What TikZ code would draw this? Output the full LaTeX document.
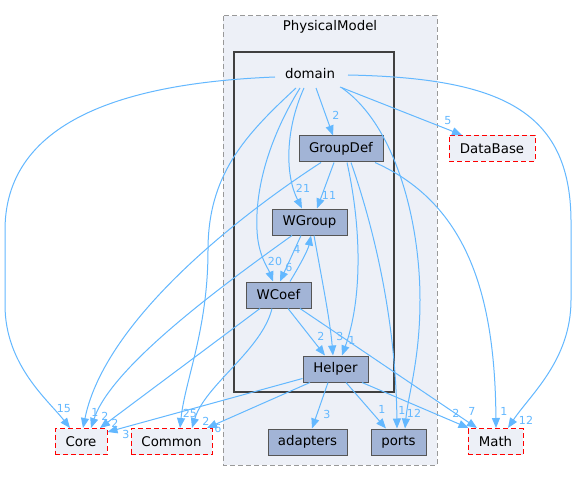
\documentclass[tikz,border=0pt]{standalone}
\usepackage{fontspec}
\setmainfont{DejaVu Sans}
\usetikzlibrary{arrows.meta,calc}
\definecolor{eb}{HTML}{63B8FF}
\definecolor{nf}{HTML}{A2B4D6}
\definecolor{cf}{HTML}{EDF0F7}
\definecolor{nb}{HTML}{555555}
\definecolor{db}{HTML}{404040}
\definecolor{pb}{HTML}{999999}
\tikzset{
  w/.style={minimum width=#1*0.75pt},
  dirn/.style={draw=nb, fill=nf, line width=0.75pt, minimum height=19.5pt, inner sep=0pt, font=\fontsize{10}{12}\selectfont},
  extn/.style={draw=red, fill=cf, line width=0.75pt, dash pattern=on 3.75pt off 2.25pt, minimum height=19.5pt, inner sep=0pt, font=\fontsize{10}{12}\selectfont},
  dep/.style={draw=eb, line width=0.75pt, -{Triangle[length=7.5pt,width=6pt]}},
  lbl/.style={text=eb, inner sep=0pt, font=\fontsize{8.3}{10}\selectfont},
  ttl/.style={inner sep=0pt, font=\fontsize{10}{12}\selectfont}
}
\begin{document}
\begin{tikzpicture}[x=0.75pt,y=-0.75pt]
\useasboundingbox (0,0) rectangle (578,481);
\fill[white] (0,0) rectangle (578,481);
% clusters
\draw[pb, fill=cf, dash pattern=on 3.75pt off 2.25pt, line width=0.75pt] (223,16) rectangle (437,465);
\node[ttl] (pmtitle) at (330,27) {PhysicalModel};
\draw[db, fill=cf, line width=1.5pt] (234,52) rectangle (394,392);
\node[ttl] (domain) at (310,74) {domain};
% nodes
\node[dirn, w=84] (GroupDef) at (341,149) {GroupDef};
\node[dirn, w=75] (WGroup) at (309.5,222) {WGroup};
\node[dirn, w=65] (WCoef) at (278.5,295) {WCoef};
\node[dirn, w=65] (Helper) at (335.5,369) {Helper};
\node[dirn, w=79] (adapters) at (307.5,442) {adapters};
\node[dirn, w=55] (ports) at (398.5,442) {ports};
\node[extn, w=52] (Core) at (81,441.5) {Core};
\node[extn, w=81] (Common) at (171.5,441.5) {Common};
\node[extn, w=55] (Math) at (495.5,441.5) {Math};
\node[extn, w=86] (DataBase) at (492,148.5) {DataBase};
% edges from domain
\draw[dep] ($(domain)+(-35,3)$) .. controls (150,82) and (5,110) .. (5,230) -- (5,305) .. controls (5,365) and (48,400) .. ($(Core.north)+(-11,0)$);
\draw[dep] ($(domain)+(-14,14)$) .. controls (245,135) and (208,175) .. (208,250) .. controls (208,330) and (185,380) .. ($(Common.north)+(8.5,0)$);
\draw[dep] ($(domain)+(6,14)$) -- ($(GroupDef.north)+(-8,0)$);
\draw[dep] ($(domain)+(-6,14)$) .. controls (285,130) and (285,175) .. ($(WGroup.north)+(-7.5,0)$);
\draw[dep] ($(domain)+(-10,14)$) .. controls (268,140) and (255,190) .. (257,230) .. controls (258,255) and (268,268) .. ($(WCoef.north)+(-5.5,0)$);
\draw[dep] ($(domain)+(30,13)$) -- ($(DataBase.north)+(-30,0)$);
\draw[dep] ($(domain)+(32,14)$) .. controls (395,125) and (420,220) .. (420,300) .. controls (420,360) and (408,395) .. ($(ports.north)+(6.5,0)$);
\draw[dep] ($(domain)+(38,1)$) .. controls (500,78) and (570,110) .. (571,220) -- (571,300) .. controls (571,360) and (530,395) .. ($(Math.north)+(12.5,0)$);
% edges from GroupDef
\draw[dep] ($(GroupDef.south)+(-20,0)$) .. controls (240,215) and (105,320) .. ($(Core.north)+(2,0)$);
\draw[dep] ($(GroupDef.south)+(-7,0)$) -- ($(WGroup.north)+(7.5,0)$);
\draw[dep] ($(GroupDef.south)+(6,0)$) .. controls (362,230) and (362,300) .. ($(Helper.north)+(6.5,0)$);
\draw[dep] ($(GroupDef.south)+(10,0)$) .. controls (378,240) and (396,330) .. ($(ports.north)+(-1.5,0)$);
\draw[dep] ($(GroupDef.south)+(34,0)$) .. controls (470,205) and (495,300) .. ($(Math.north)+(0.5,0)$);
% edges from WGroup
\draw[dep] ($(WGroup.south)+(-17.5,0)$) .. controls (230,280) and (112,365) .. ($(Core.north)+(10,0)$);
\draw[dep] ($(WGroup.south)+(-8.5,0)$) -- ($(WCoef.north)+(1.5,0)$);
\draw[dep] ($(WGroup.south)+(4.5,0)$) .. controls (322,280) and (330,320) .. ($(Helper.north)+(-2.5,0)$);
% edges from WCoef
\draw[dep] ($(WCoef.north)+(11.5,0)$) .. controls (300,265) and (308,250) .. ($(WGroup.south)+(1.5,0)$);
\draw[dep] ($(WCoef.south)+(-18.5,0)$) -- ($(Core.north)+(19,0)$);
\draw[dep] ($(WCoef.south)+(-6.5,0)$) .. controls (262,350) and (205,385) .. ($(Common.north)+(20.5,0)$);
\draw[dep] ($(WCoef.south)+(9.5,0)$) -- ($(Helper.north)+(-10.5,0)$);
\draw[dep] ($(WCoef.south)+(21.5,0)$) -- ($(Math.north)+(-18.5,0)$);
% edges from Helper
\draw[dep] ($(Helper.south west)+(0,-4)$) -- ($(Core.north east)+(0,4)$);
\draw[dep] ($(Helper.south)+(-25.5,0)$) -- ($(Common.north)+(35.5,0)$);
\draw[dep] ($(Helper.south)+(-7.5,0)$) -- ($(adapters.north)+(4.5,0)$);
\draw[dep] ($(Helper.south)+(10.5,0)$) -- ($(ports.north)+(-12.5,0)$);
\draw[dep] ($(Helper.south)+(26.5,0)$) -- ($(Math.north west)+(1,0)$);
% labels
\node[lbl] (l1) at (64,409) {15};
\node[lbl] (l2) at (95,412) {1};
\node[lbl] (l3) at (105,416) {2};
\node[lbl] (l4) at (115,423) {2};
\node[lbl] (l5) at (126,434) {3};
\node[lbl] (l6) at (190,413) {25};
\node[lbl] (l7) at (206,421) {2};
\node[lbl] (l8) at (218,428) {6};
\node[lbl] (l9) at (456,413) {2};
\node[lbl] (l10) at (472,411) {7};
\node[lbl] (l11) at (504,411) {1};
\node[lbl] (l12) at (526,420) {12};
\node[lbl] (l13) at (382,409) {1};
\node[lbl] (l14) at (402,410) {1};
\node[lbl] (l15) at (414,413) {12};
\node[lbl] (l16) at (321,336) {2};
\node[lbl] (l17) at (340,336) {3};
\node[lbl] (l18) at (352,340) {1};
\node[lbl] (l19) at (327,414) {3};
\node[lbl] (l20) at (275,261) {20};
\node[lbl] (l21) at (289,267) {6};
\node[lbl] (l22) at (297,249) {4};
\node[lbl] (l23) at (303,188) {21};
\node[lbl] (l24) at (329,195) {11};
\node[lbl] (l25) at (336,115) {2};
\node[lbl] (l26) at (448,121) {5};
\end{tikzpicture}
\end{document}
